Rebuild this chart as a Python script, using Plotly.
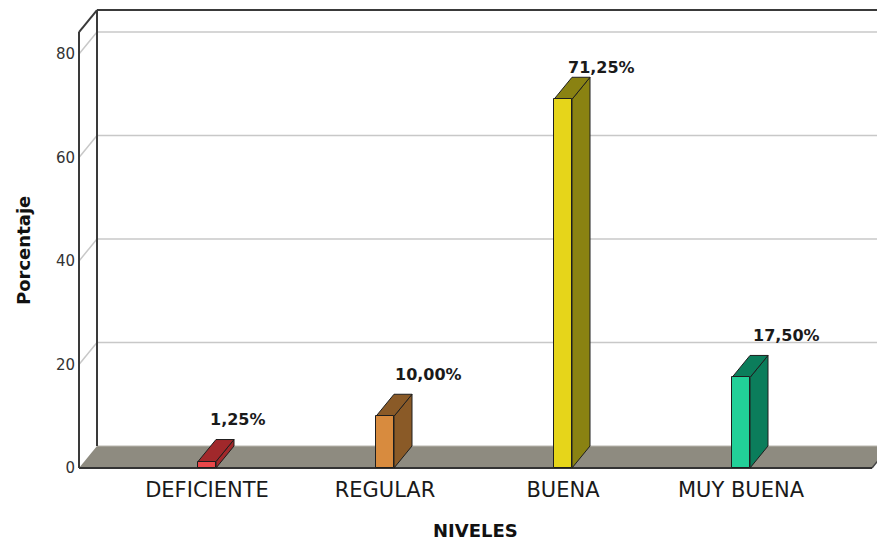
import plotly.graph_objects as go

# ---- data ----
categories = ["DEFICIENTE", "REGULAR", "BUENA", "MUY BUENA"]
percentages = [1.25, 10.00, 71.25, 17.50]
value_labels = ["1,25%", "10,00%", "71,25%", "17,50%"]
y_ticks = [0, 20, 40, 60, 80]

# ---- style ----
front_colors = ["#e8484a", "#d88b3e", "#e6d51a", "#22d098"]
side_colors = ["#a1282b", "#8a5a27", "#8a8212", "#0b7d5b"]
label_xshift = [31, 43, 38, 45]
label_yshift = [42, 42, 32, 42]

W, H = 877, 545
ML, MR, MT, MB = 76, 0, 4, 70
XPU, X0PX = 178.0, 207.0          # px per category, px of first category
YPU, Y0PX = 5.175, 468.0          # px per percent, px of value 0
DXPX, DYPX = 18.0, 22.0           # 3D depth offset in px

xr = [(ML - X0PX) / XPU, (W - MR - X0PX) / XPU]
yr = [-((H - MB) - Y0PX) / YPU, (Y0PX - MT) / YPU]
DX = DXPX / XPU
DY = DYPX / YPU
BW = 18.0 / XPU
XL = (79 - X0PX) / XPU             # front-left edge of the box
XFR = (872 - X0PX) / XPU           # front-right edge of floor
XMAX = xr[1] + 0.5
TOP = 84.25

shapes = []
def poly(pts, fill, line_color, lw, layer="below"):
    path = "M " + " L ".join(f"{x},{y}" for x, y in pts) + " Z"
    shapes.append(dict(type="path", path=path, xref="x", yref="y",
                       fillcolor=fill, line=dict(color=line_color, width=lw), layer=layer))
def seg(x0, y0, x1, y1, color, lw, layer="below"):
    shapes.append(dict(type="line", x0=x0, y0=y0, x1=x1, y1=y1, xref="x", yref="y",
                       line=dict(color=color, width=lw), layer=layer))

# gridlines on back wall
for v in y_ticks[1:]:
    seg(XL, v, XL + DX, v + DY, "#c8c8c8", 1.5)
    seg(XL + DX, v + DY, XMAX, v + DY, "#c8c8c8", 1.5)

# floor
poly([(XL, 0), (XFR, 0), (XFR + DX, DY), (XL + DX, DY)], "#8e8b80", "rgba(0,0,0,0)", 0)
seg(XFR, 0, XFR + DX, DY, "#444444", 1.5)
seg(XL, 0, XFR, 0, "#333333", 2)
seg(XL + DX, DY, XMAX, DY, "#b9b7ae", 1)

# frame
seg(XL, 0, XL, TOP, "#3a3a3a", 2)
seg(XL + DX, DY, XL + DX, TOP + DY, "#3a3a3a", 2)
seg(XL, TOP, XL + DX, TOP + DY, "#3a3a3a", 2)
seg(XL + DX, TOP + DY, XMAX, TOP + DY, "#3a3a3a", 2)

# 3D side and top faces of bars
for i, v in enumerate(percentages):
    xl, xrr = i - BW / 2, i + BW / 2
    poly([(xrr, 0), (xrr + DX, DY), (xrr + DX, v + DY), (xrr, v)], side_colors[i], "#1e1e1e", 1)
    poly([(xl, v), (xrr, v), (xrr + DX, v + DY), (xl + DX, v + DY)], side_colors[i], "#1e1e1e", 1)

fig = go.Figure()
fig.add_trace(go.Bar(
    x=list(range(len(categories))), y=percentages, width=BW,
    marker=dict(color=front_colors, line=dict(color="#1e1e1e", width=1)),
    hoverinfo="skip", showlegend=False,
))

annotations = []
for i, v in enumerate(percentages):
    annotations.append(dict(x=i, y=v, xref="x", yref="y", text=value_labels[i],
                            showarrow=False, xshift=label_xshift[i], yshift=label_yshift[i],
                            font=dict(family="DejaVu Sans", size=16, color="#1a1a1a", weight="bold")))

pw = W - ML - MR
ph = H - MT - MB
annotations.append(dict(text="Porcentaje", xref="paper", yref="paper",
                        x=(23 - ML) / pw, y=1 - (251 - MT) / ph, textangle=-90,
                        showarrow=False, xanchor="center", yanchor="middle",
                        font=dict(family="DejaVu Sans", size=18, color="#111", weight="bold")))
annotations.append(dict(text="NIVELES", xref="paper", yref="paper",
                        x=(475 - ML) / pw, y=1 - (530 - MT) / ph,
                        showarrow=False, xanchor="center", yanchor="middle",
                        font=dict(family="DejaVu Sans", size=18, color="#111", weight="bold")))

fig.update_layout(
    width=W, height=H, margin=dict(l=ML, r=MR, t=MT, b=MB, pad=0),
    paper_bgcolor="white", plot_bgcolor="white",
    shapes=shapes, annotations=annotations, bargap=0,
    xaxis=dict(range=xr, tickmode="array", tickvals=list(range(len(categories))),
               ticktext=categories, showgrid=False, zeroline=False, showline=False,
               ticks="", ticklen=0,
               tickfont=dict(family="DejaVu Sans", size=21, color="#1a1a1a")),
    yaxis=dict(range=yr, tickmode="array", tickvals=y_ticks,
               showgrid=False, zeroline=False, showline=False,
               ticks="", ticklen=0,
               tickfont=dict(family="DejaVu Sans", size=15, color="#333")),
)

fig.write_html("out.html")
